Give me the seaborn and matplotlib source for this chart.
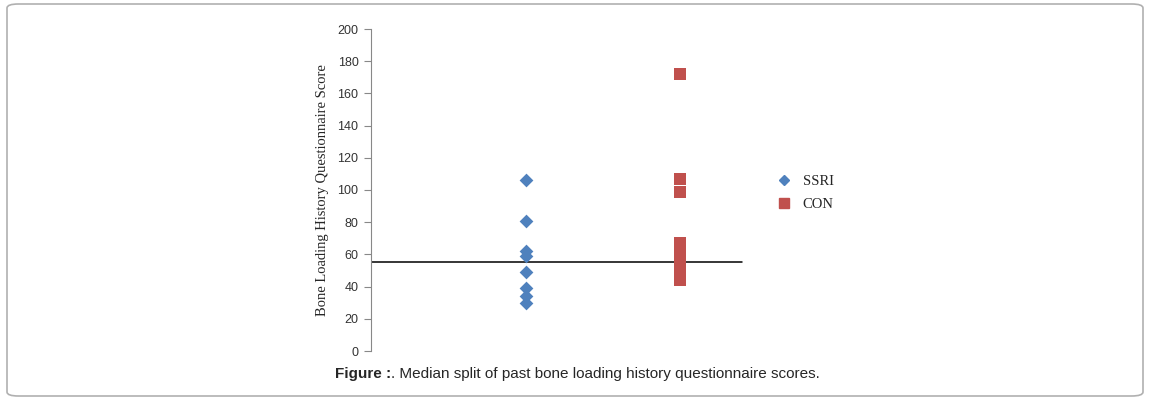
import pandas as pd
import seaborn as sns
import matplotlib.pyplot as plt
from matplotlib.patches import FancyBboxPatch
from matplotlib.lines import Line2D

# ----------- Data ----------------------------------------

groups = ["SSRI", "CON"]
ssri_scores = [106, 81, 62, 59, 49, 39, 34, 30]
con_scores = [172, 107, 99, 67, 62, 58, 55, 51, 47, 44]
median_score = 55.5
y_ticks = [0, 20, 40, 60, 80, 100, 120, 140, 160, 180, 200]

df = pd.DataFrame({
    "group": ["SSRI"] * len(ssri_scores) + ["CON"] * len(con_scores),
    "score": ssri_scores + con_scores,
})

blue = "#4F81BD"
red = "#C0504D"

sns.set_style("white")
fig = plt.figure(figsize=(11.5, 4), dpi=100)
ax = fig.add_axes([0.3226, 0.1225, 0.4035, 0.805])

sns.stripplot(data=df[df.group == "SSRI"], x="group", y="score", order=groups,
              jitter=False, marker="D", size=7, color=blue, linewidth=0, ax=ax)
sns.stripplot(data=df[df.group == "CON"], x="group", y="score", order=groups,
              jitter=False, marker="s", size=8, color=red, linewidth=0, ax=ax)

ax.plot([-1, 1.4], [median_score, median_score], color="black", lw=1.1, zorder=1)

ax.set_xlim(-1, 2)
ax.set_ylim(0, 200)
ax.set_yticks(y_ticks)
ax.set_yticklabels([str(t) for t in y_ticks], fontsize=9, family="Liberation Sans", color="#333333")
ax.set_xticks([])
ax.set_xlabel("")
ax.set_ylabel("Bone Loading History Questionnaire Score", family="Liberation Serif",
              fontsize=10.5, labelpad=6)
for s in ["top", "right", "bottom"]:
    ax.spines[s].set_visible(False)
ax.spines["left"].set_color("#888888")
ax.tick_params(axis="y", left=True, direction="out", length=5, color="#888888", pad=4)

handles = [
    Line2D([], [], marker="D", color=blue, linestyle="", markersize=5),
    Line2D([], [], marker="s", color=red, linestyle="", markersize=7),
]
ax.legend(handles, groups, loc="center left", bbox_to_anchor=(0.83, 0.49), frameon=False,
          prop={"family": "Liberation Serif", "size": 10.5}, handletextpad=0.3, labelspacing=0.65)

# caption: bold "Figure :" followed by regular text
cap_y = 0.064
bold = fig.text(0.2915, cap_y, "Figure :", ha="left", va="center", fontsize=11,
                family="Liberation Sans", weight="bold")
fig.canvas.draw()
bb = bold.get_window_extent().transformed(fig.transFigure.inverted())
fig.text(bb.x1, cap_y, ". Median split of past bone loading history questionnaire scores.",
         ha="left", va="center", fontsize=11, family="Liberation Sans")

box = FancyBboxPatch((7 / 1150, 4 / 400), 1136 / 1150, 392 / 400,
                     boxstyle="round,pad=0,rounding_size=0.01", transform=fig.transFigure,
                     facecolor="none", edgecolor="#b0b0b0", lw=1.2)
fig.patches.append(box)

fig.savefig("out.png", dpi=100)
